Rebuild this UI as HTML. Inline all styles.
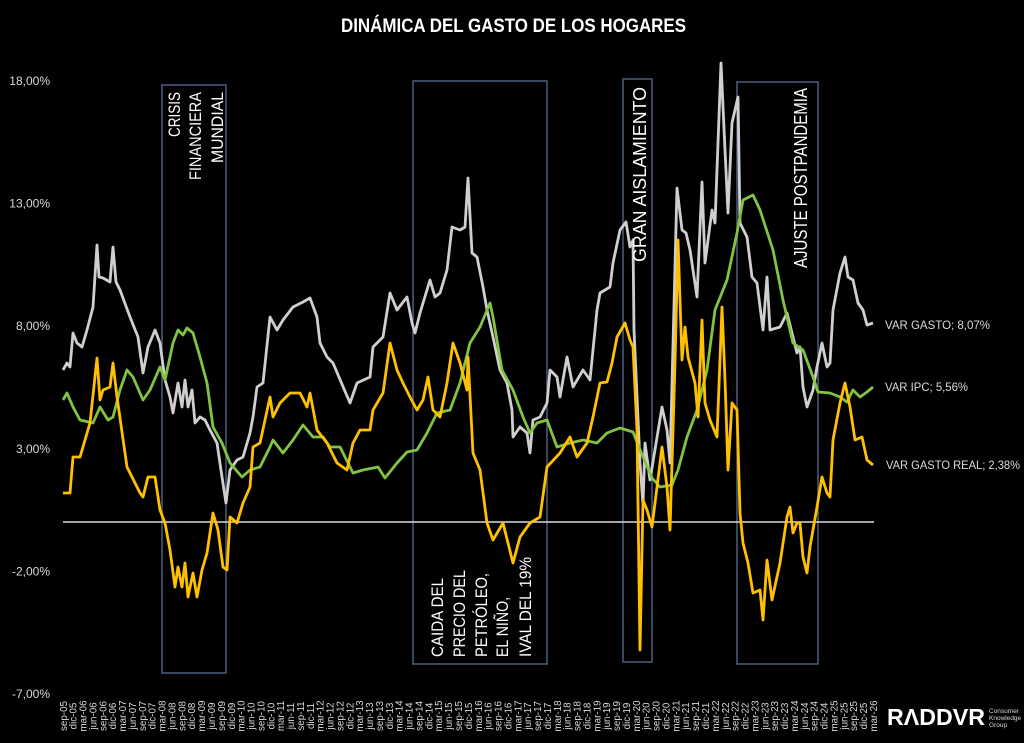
<!DOCTYPE html>
<html>
<head>
<meta charset="utf-8">
<style>
html,body{margin:0;padding:0;background:#000;}
svg{display:block;}
text{font-family:"Liberation Sans",Arial,sans-serif;}
</style>
</head>
<body>
<svg width="1024" height="743" viewBox="0 0 1024 743" xmlns="http://www.w3.org/2000/svg">
<rect width="1024" height="743" fill="#000"/>

<!-- Title -->
<text x="341" y="32" font-size="19.5" font-weight="bold" fill="#ffffff" textLength="345" lengthAdjust="spacingAndGlyphs">DINÁMICA DEL GASTO DE LOS HOGARES</text>

<!-- Y axis labels -->
<g font-size="12" fill="#d9d9d9" text-anchor="end">
<text x="50" y="85">18,00%</text>
<text x="50" y="207.5">13,00%</text>
<text x="50" y="330">8,00%</text>
<text x="50" y="453">3,00%</text>
<text x="50" y="575.5">-2,00%</text>
<text x="50" y="698">-7,00%</text>
</g>

<!-- Event boxes -->
<g fill="none" stroke="#4d5d7c" stroke-width="1.5">
<rect x="162" y="85" width="64" height="588"/>
<rect x="413" y="81" width="134" height="583"/>
<rect x="623" y="79" width="29" height="583"/>
<rect x="737" y="82" width="81" height="582"/>
</g>

<!-- Zero line -->
<line x1="63" y1="522" x2="874" y2="522" stroke="#d9d9d9" stroke-width="1.5"/>

<!-- VAR GASTO (gray) -->
<polyline fill="none" stroke="#cfcfcf" stroke-width="2.8" stroke-linejoin="round" points="63,370 67,363 70,367 73,333 77,343 82,347 87,330 93,307 97,245 99,277 103,278 110,282 113,247 116,282 120,290 130,317 138,337 143,373 148,347 155,330 160,343 165,380 170,397 173,413 178,383 182,407 185,380 188,407 192,390 195,423 200,417 205,420 210,430 217,443 222,477 226,503 230,470 237,460 243,457 250,433 253,417 257,387 263,383 270,317 277,330 283,320 293,307 303,302 310,298 317,317 320,343 327,357 333,363 350,403 357,383 370,377 373,347 383,337 390,293 397,310 407,297 412,323 415,333 420,313 430,280 435,297 440,293 447,270 452,227 460,230 465,227 468,178 472,253 477,257 483,287 487,310 493,337 500,370 507,383 512,410 513,437 520,427 527,433 530,453 533,420 540,417 547,403 550,370 557,377 560,397 567,357 573,387 583,370 590,380 597,310 600,293 610,287 613,263 620,230 626,222 630,247 633,240 634,330 640,463 643,505 645,443 650,480 662,407 667,430 670,463 677,188 682,230 686,233 690,250 697,297 702,182 705,263 712,210 715,223 721,63 725,150 728,213 732,123 738,97 740,223 747,237 752,277 757,283 763,330 767,277 770,330 780,327 787,313 792,333 797,353 800,347 803,387 807,407 813,390 817,367 822,343 827,367 830,363 833,310 840,273 845,257 848,277 853,280 858,303 863,310 867,325 873,323"/>

<!-- VAR IPC (green) -->
<polyline fill="none" stroke="#82c341" stroke-width="2.8" stroke-linejoin="round" points="63,400 67,393 73,407 80,420 93,423 100,407 108,420 113,417 120,390 127,370 133,377 143,400 150,390 160,367 165,380 173,343 178,330 183,335 187,328 193,333 200,357 207,383 213,427 222,443 230,463 242,477 250,470 260,467 270,447 273,440 283,453 293,440 303,425 313,437 323,437 330,447 340,447 353,473 363,470 378,467 385,478 397,463 407,452 417,450 427,433 437,413 450,410 460,383 470,343 480,327 490,303 493,317 502,370 513,390 523,417 530,433 537,423 547,420 557,447 570,443 583,440 597,443 607,433 620,428 633,432 643,457 652,478 660,487 672,485 678,470 687,437 697,410 707,370 715,310 727,280 737,233 743,200 753,195 760,210 773,250 783,300 793,343 803,350 813,377 818,392 830,393 840,397 847,402 853,390 860,397 867,392 873,387"/>

<!-- VAR GASTO REAL (yellow) -->
<polyline fill="none" stroke="#ffc000" stroke-width="2.8" stroke-linejoin="round" points="63,493 70,493 73,457 80,457 90,423 97,358 100,400 103,390 110,387 113,363 117,397 127,467 140,493 143,497 148,477 155,477 160,510 165,523 170,550 175,587 178,567 182,587 185,563 188,597 193,573 197,597 202,570 207,553 213,513 218,530 223,567 227,570 230,517 237,523 243,503 250,487 253,447 260,443 270,397 273,417 280,403 290,393 300,393 307,407 310,393 317,430 327,443 337,463 347,470 353,443 360,430 370,430 373,410 383,393 390,343 397,370 403,383 410,397 417,410 423,400 428,377 433,410 440,417 447,383 453,343 460,363 467,390 468,357 473,453 480,470 487,523 493,540 503,523 513,563 520,537 530,523 540,517 547,467 560,453 570,437 577,457 587,443 593,417 600,383 607,382 612,363 617,337 625,323 630,340 633,347 637,430 640,650 643,500 647,510 652,527 655,503 662,447 667,487 670,530 675,363 678,240 682,360 685,327 688,357 695,383 698,417 702,320 705,403 710,420 717,437 722,307 725,380 728,470 732,403 737,410 740,513 743,543 748,563 753,593 760,590 763,620 767,560 772,600 780,563 787,517 790,507 793,533 797,523 800,523 803,557 807,573 810,547 817,507 822,477 827,493 830,497 833,440 840,403 845,383 850,407 855,440 862,437 867,460 873,465"/>

<!-- Box texts -->
<g font-size="17" fill="#ffffff" lengthAdjust="spacingAndGlyphs">
<text transform="translate(180,92) rotate(-90)" text-anchor="end" textLength="45" lengthAdjust="spacingAndGlyphs">CRISIS</text>
<text transform="translate(201,92) rotate(-90)" text-anchor="end" textLength="88" lengthAdjust="spacingAndGlyphs">FINANCIERA</text>
<text transform="translate(223,92) rotate(-90)" text-anchor="end" textLength="71" lengthAdjust="spacingAndGlyphs">MUNDIAL</text>

<text transform="translate(443,657) rotate(-90)" textLength="79" lengthAdjust="spacingAndGlyphs">CAIDA DEL</text>
<text transform="translate(465,657) rotate(-90)" textLength="87" lengthAdjust="spacingAndGlyphs">PRECIO DEL</text>
<text transform="translate(487,657) rotate(-90)" textLength="84" lengthAdjust="spacingAndGlyphs">PETRÓLEO,</text>
<text transform="translate(508,657) rotate(-90)" textLength="60" lengthAdjust="spacingAndGlyphs">EL NIÑO,</text>
<text transform="translate(531,657) rotate(-90)" textLength="100" lengthAdjust="spacingAndGlyphs">IVAL DEL 19%</text>

<text transform="translate(646,262) rotate(-90)" font-size="18" textLength="175" lengthAdjust="spacingAndGlyphs">GRAN AISLAMIENTO</text>
<text transform="translate(807,268) rotate(-90)" font-size="18" textLength="180" lengthAdjust="spacingAndGlyphs">AJUSTE POSTPANDEMIA</text>
</g>

<!-- Series labels -->
<g font-size="12" fill="#d9d9d9">
<text x="885" y="329" textLength="105" lengthAdjust="spacingAndGlyphs">VAR GASTO; 8,07%</text>
<text x="885" y="391" textLength="83" lengthAdjust="spacingAndGlyphs">VAR IPC; 5,56%</text>
<text x="886" y="469" textLength="134" lengthAdjust="spacingAndGlyphs">VAR GASTO REAL; 2,38%</text>
</g>

<!-- X axis labels -->
<g font-size="9.8" fill="#d9d9d9" text-anchor="middle">
<text transform="translate(66.8,716) rotate(-90)">sep-05</text>
<text transform="translate(76.7,716) rotate(-90)">dic-05</text>
<text transform="translate(86.6,716) rotate(-90)">mar-06</text>
<text transform="translate(96.4,716) rotate(-90)">jun-06</text>
<text transform="translate(106.3,716) rotate(-90)">sep-06</text>
<text transform="translate(116.2,716) rotate(-90)">dic-06</text>
<text transform="translate(126.1,716) rotate(-90)">mar-07</text>
<text transform="translate(136.0,716) rotate(-90)">jun-07</text>
<text transform="translate(145.8,716) rotate(-90)">sep-07</text>
<text transform="translate(155.7,716) rotate(-90)">dic-07</text>
<text transform="translate(165.6,716) rotate(-90)">mar-08</text>
<text transform="translate(175.5,716) rotate(-90)">jun-08</text>
<text transform="translate(185.4,716) rotate(-90)">sep-08</text>
<text transform="translate(195.2,716) rotate(-90)">dic-08</text>
<text transform="translate(205.1,716) rotate(-90)">mar-09</text>
<text transform="translate(215.0,716) rotate(-90)">jun-09</text>
<text transform="translate(224.9,716) rotate(-90)">sep-09</text>
<text transform="translate(234.8,716) rotate(-90)">dic-09</text>
<text transform="translate(244.6,716) rotate(-90)">mar-10</text>
<text transform="translate(254.5,716) rotate(-90)">jun-10</text>
<text transform="translate(264.4,716) rotate(-90)">sep-10</text>
<text transform="translate(274.3,716) rotate(-90)">dic-10</text>
<text transform="translate(284.2,716) rotate(-90)">mar-11</text>
<text transform="translate(294.0,716) rotate(-90)">jun-11</text>
<text transform="translate(303.9,716) rotate(-90)">sep-11</text>
<text transform="translate(313.8,716) rotate(-90)">dic-11</text>
<text transform="translate(323.7,716) rotate(-90)">mar-12</text>
<text transform="translate(333.6,716) rotate(-90)">jun-12</text>
<text transform="translate(343.4,716) rotate(-90)">sep-12</text>
<text transform="translate(353.3,716) rotate(-90)">dic-12</text>
<text transform="translate(363.2,716) rotate(-90)">mar-13</text>
<text transform="translate(373.1,716) rotate(-90)">jun-13</text>
<text transform="translate(383.0,716) rotate(-90)">sep-13</text>
<text transform="translate(392.8,716) rotate(-90)">dic-13</text>
<text transform="translate(402.7,716) rotate(-90)">mar-14</text>
<text transform="translate(412.6,716) rotate(-90)">jun-14</text>
<text transform="translate(422.5,716) rotate(-90)">sep-14</text>
<text transform="translate(432.4,716) rotate(-90)">dic-14</text>
<text transform="translate(442.2,716) rotate(-90)">mar-15</text>
<text transform="translate(452.1,716) rotate(-90)">jun-15</text>
<text transform="translate(462.0,716) rotate(-90)">sep-15</text>
<text transform="translate(471.9,716) rotate(-90)">dic-15</text>
<text transform="translate(481.8,716) rotate(-90)">mar-16</text>
<text transform="translate(491.6,716) rotate(-90)">jun-16</text>
<text transform="translate(501.5,716) rotate(-90)">sep-16</text>
<text transform="translate(511.4,716) rotate(-90)">dic-16</text>
<text transform="translate(521.3,716) rotate(-90)">mar-17</text>
<text transform="translate(531.2,716) rotate(-90)">jun-17</text>
<text transform="translate(541.0,716) rotate(-90)">sep-17</text>
<text transform="translate(550.9,716) rotate(-90)">dic-17</text>
<text transform="translate(560.8,716) rotate(-90)">mar-18</text>
<text transform="translate(570.7,716) rotate(-90)">jun-18</text>
<text transform="translate(580.6,716) rotate(-90)">sep-18</text>
<text transform="translate(590.4,716) rotate(-90)">dic-18</text>
<text transform="translate(600.3,716) rotate(-90)">mar-19</text>
<text transform="translate(610.2,716) rotate(-90)">jun-19</text>
<text transform="translate(620.1,716) rotate(-90)">sep-19</text>
<text transform="translate(630.0,716) rotate(-90)">dic-19</text>
<text transform="translate(639.8,716) rotate(-90)">mar-20</text>
<text transform="translate(649.7,716) rotate(-90)">jun-20</text>
<text transform="translate(659.6,716) rotate(-90)">sep-20</text>
<text transform="translate(669.5,716) rotate(-90)">dic-20</text>
<text transform="translate(679.4,716) rotate(-90)">mar-21</text>
<text transform="translate(689.2,716) rotate(-90)">jun-21</text>
<text transform="translate(699.1,716) rotate(-90)">sep-21</text>
<text transform="translate(709.0,716) rotate(-90)">dic-21</text>
<text transform="translate(718.9,716) rotate(-90)">mar-22</text>
<text transform="translate(728.8,716) rotate(-90)">jun-22</text>
<text transform="translate(738.6,716) rotate(-90)">sep-22</text>
<text transform="translate(748.5,716) rotate(-90)">dic-22</text>
<text transform="translate(758.4,716) rotate(-90)">mar-23</text>
<text transform="translate(768.3,716) rotate(-90)">jun-23</text>
<text transform="translate(778.2,716) rotate(-90)">sep-23</text>
<text transform="translate(788.0,716) rotate(-90)">dic-23</text>
<text transform="translate(797.9,716) rotate(-90)">mar-24</text>
<text transform="translate(807.8,716) rotate(-90)">jun-24</text>
<text transform="translate(817.7,716) rotate(-90)">sep-24</text>
<text transform="translate(827.6,716) rotate(-90)">dic-24</text>
<text transform="translate(837.4,716) rotate(-90)">mar-25</text>
<text transform="translate(847.3,716) rotate(-90)">jun-25</text>
<text transform="translate(857.2,716) rotate(-90)">sep-25</text>
<text transform="translate(867.1,716) rotate(-90)">dic-25</text>
<text transform="translate(877.0,716) rotate(-90)">mar-26</text>
</g>

<!-- Logo -->
<text x="887" y="725" font-size="23" font-weight="bold" fill="#ffffff" textLength="98" lengthAdjust="spacingAndGlyphs">RΛDDVR</text>
<g font-size="6.5" fill="#d9d9d9">
<text x="989" y="713">Consumer</text>
<text x="989" y="720">Knowledge</text>
<text x="989" y="727">Group</text>
</g>
</svg>
</body>
</html>
